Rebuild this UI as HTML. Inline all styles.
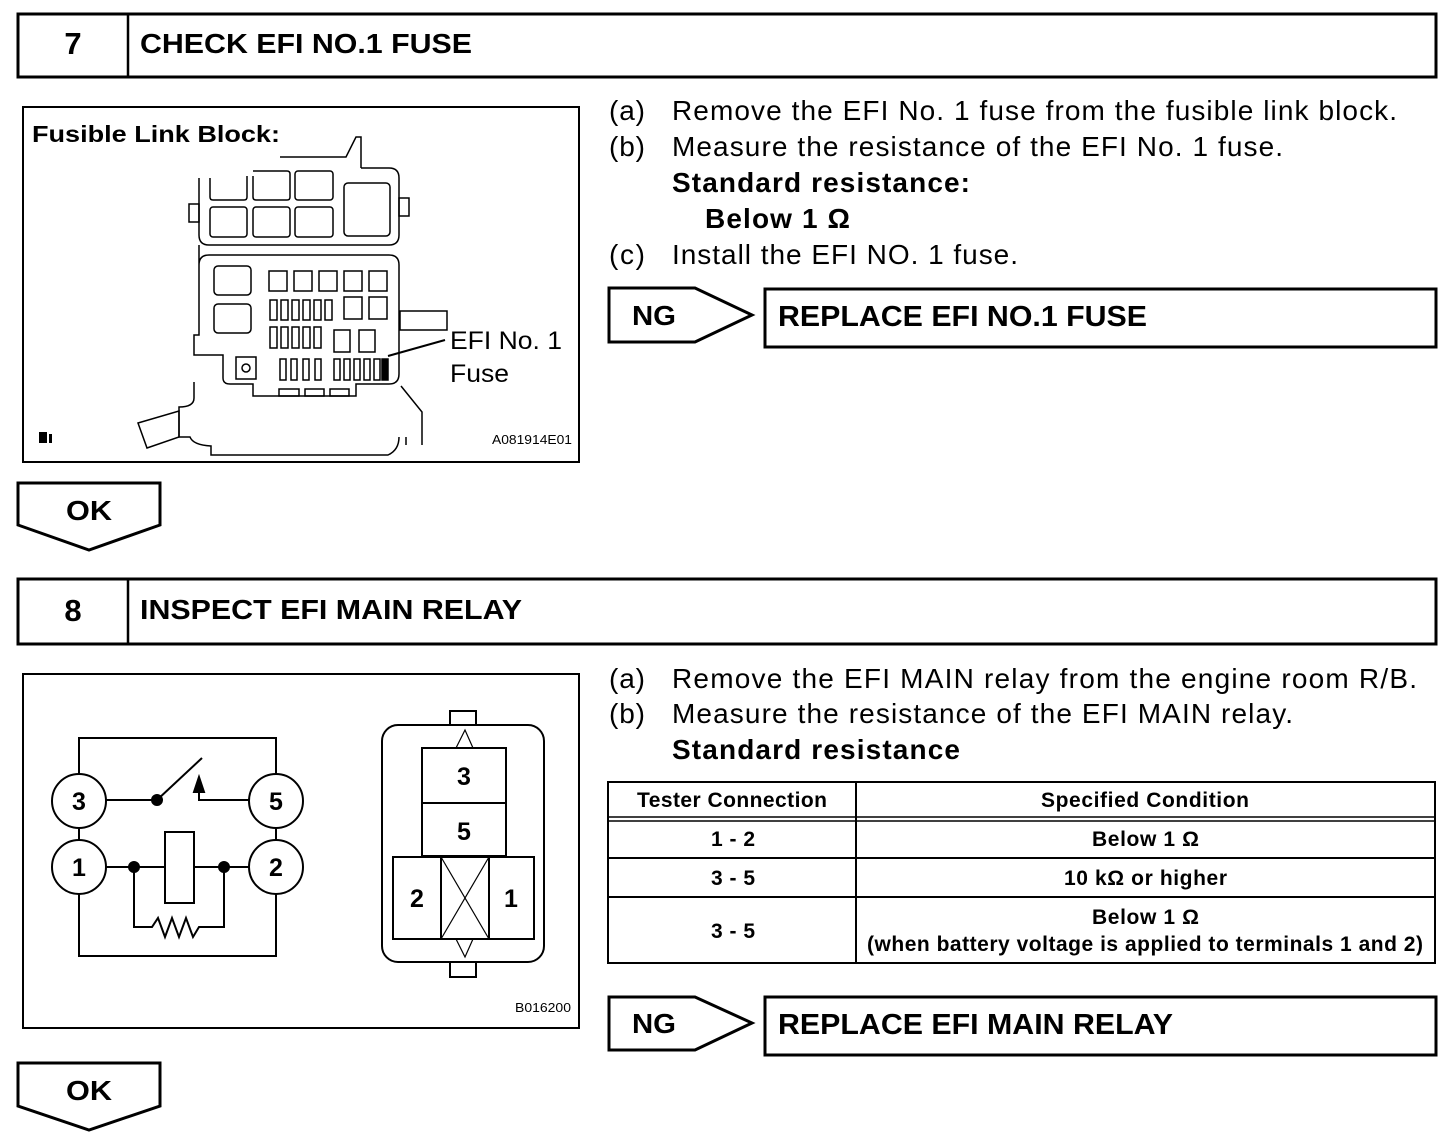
<!DOCTYPE html>
<html><head><meta charset="utf-8"><style>
html,body{margin:0;padding:0;background:#fff;}
svg{display:block;}
text{font-family:"Liberation Sans",Arial,sans-serif;fill:#000;}
.b{font-weight:bold;}
</style></head><body>
<svg width="1456" height="1142" viewBox="0 0 1456 1142" xmlns="http://www.w3.org/2000/svg">
<g fill="none" stroke="#000">
<rect x="18" y="14" width="1418" height="63" stroke-width="3"/>
<line x1="128" y1="14" x2="128" y2="77" stroke-width="2.5"/>
<rect x="18" y="579" width="1418" height="65" stroke-width="3"/>
<line x1="128" y1="579" x2="128" y2="644" stroke-width="2.5"/>
<rect x="23" y="107" width="556" height="355" stroke-width="2"/>
<rect x="23" y="674" width="556" height="354" stroke-width="2"/>
<polygon points="609,288 695,288 752,315 695,342 609,342" stroke-width="3"/>
<rect x="765" y="289" width="671" height="58" stroke-width="3"/>
<polygon points="609,997 695,997 752,1023 695,1050 609,1050" stroke-width="3"/>
<rect x="765" y="997" width="671" height="58" stroke-width="3"/>
<polygon points="18,483 160,483 160,525 89,550 18,525" stroke-width="3"/>
<polygon points="18,1063 160,1063 160,1106 89,1130 18,1106" stroke-width="3"/>
<rect x="608" y="782" width="827" height="181" stroke-width="2"/>
<line x1="856" y1="782" x2="856" y2="963" stroke-width="2"/>
<line x1="608" y1="817" x2="1435" y2="817" stroke-width="1.5"/>
<line x1="608" y1="821" x2="1435" y2="821" stroke-width="1.5"/>
<line x1="608" y1="858" x2="1435" y2="858" stroke-width="2"/>
<line x1="608" y1="897" x2="1435" y2="897" stroke-width="2"/>

<g stroke-width="1.5">
<path d="M280,157 L346,157 L356,137 L361,137 L361,168"/>
<path d="M199,178 L199,235 Q199,245 209,245 L389,245 Q399,245 399,235 L399,178 Q399,168 389,168 L361,168"/>
<rect x="189" y="204" width="10" height="18"/>
<rect x="399" y="198" width="10" height="18"/>
<path d="M210,178 L210,197 Q210,200 213,200 L244,200 Q247,200 247,197 L247,176"/>
<path d="M253,176 L253,197 Q253,200 256,200 L287,200 Q290,200 290,197 L290,174 Q290,171 287,171 L253,171"/>
<rect x="295" y="171" width="38" height="29" rx="3"/>
<rect x="210" y="207" width="37" height="30" rx="3"/>
<rect x="253" y="207" width="37" height="30" rx="3"/>
<rect x="295" y="207" width="38" height="30" rx="3"/>
<rect x="344" y="183" width="46" height="53" rx="4"/>
<path d="M199,245 L199,335 L194,335 L194,355 L223,355 L223,378 Q223,384 230,384 L253,384 L253,396 L356,396 L356,384 L389,384 Q399,384 399,374 L399,265 Q399,255 389,255 L209,255 Q199,255 199,265"/>
<rect x="214" y="266" width="37" height="29" rx="4"/>
<rect x="214" y="304" width="37" height="29" rx="4"/>
<rect x="269" y="271" width="18" height="20"/><rect x="294" y="271" width="18" height="20"/><rect x="319" y="271" width="18" height="20"/><rect x="344" y="271" width="18" height="20"/><rect x="369" y="271" width="18" height="20"/>
<rect x="270" y="300" width="7" height="20"/><rect x="281" y="300" width="7" height="20"/><rect x="292" y="300" width="7" height="20"/><rect x="303" y="300" width="7" height="20"/><rect x="314" y="300" width="7" height="20"/><rect x="325" y="300" width="7" height="20"/>
<rect x="344" y="297" width="18" height="22"/><rect x="369" y="297" width="18" height="22"/>
<rect x="270" y="327" width="7" height="21"/><rect x="281" y="327" width="7" height="21"/><rect x="292" y="327" width="7" height="21"/><rect x="303" y="327" width="7" height="21"/><rect x="314" y="327" width="7" height="21"/>
<rect x="334" y="330" width="16" height="22"/><rect x="359" y="330" width="16" height="22"/>
<rect x="236" y="357" width="20" height="22"/><circle cx="246" cy="368" r="4"/>
<rect x="280" y="359" width="6" height="21"/><rect x="291" y="359" width="6" height="21"/><rect x="303" y="359" width="6" height="21"/><rect x="315" y="359" width="6" height="21"/>
<rect x="334" y="359" width="6" height="21"/><rect x="344" y="359" width="6" height="21"/><rect x="354" y="359" width="6" height="21"/><rect x="364" y="359" width="6" height="21"/><rect x="374" y="359" width="6" height="21"/>
<rect x="382" y="359" width="6" height="21" fill="#000"/>
<rect x="279" y="389" width="20" height="7"/><rect x="305" y="389" width="19" height="7"/><rect x="330" y="389" width="19" height="7"/>
<rect x="400" y="311" width="47" height="19"/>
<path d="M194,382 L194,398 Q194,407 179,407 L179,437 L190,437 Q193,445 211,446 L211,455 L388,455 Q399,450 399,437"/>
<polygon points="138,423 179,411 179,437 147,448"/>
<path d="M401,386 L422,412 L422,445"/>
<path d="M406,437 L406,445"/>
<line x1="388" y1="356" x2="445" y2="340" stroke-width="2"/>
</g>

<g stroke-width="2">
<path d="M79,774 L79,738 L276,738 L276,774"/>
<path d="M79,893 L79,956 L276,956 L276,893"/>
<line x1="79" y1="827" x2="79" y2="841"/>
<line x1="276" y1="827" x2="276" y2="841"/>
<circle cx="79" cy="801" r="27"/><circle cx="276" cy="801" r="27"/>
<circle cx="79" cy="867" r="27"/><circle cx="276" cy="867" r="27"/>
<line x1="106" y1="800" x2="157" y2="800"/>
<line x1="157" y1="800" x2="202" y2="758"/>
<path d="M249,800 L199,800 L199,790"/>
<polygon points="199,777 194,792 204,792" fill="#000"/>
<circle cx="157" cy="800" r="5" fill="#000"/>
<line x1="106" y1="867" x2="165" y2="867"/>
<line x1="194" y1="867" x2="249" y2="867"/>
<rect x="165" y="832" width="29" height="71"/>
<circle cx="134" cy="867" r="5" fill="#000"/><circle cx="224" cy="867" r="5" fill="#000"/>
<path d="M134,867 L134,927 L152,927 L158,918 L165,937 L172,918 L179,937 L186,918 L193,937 L199,927 L224,927 L224,867"/>
<rect x="382" y="725" width="162" height="237" rx="16"/>
<rect x="450" y="711" width="26" height="14"/>
<rect x="450" y="962" width="26" height="15"/>
<rect x="422" y="748" width="84" height="108"/>
<line x1="422" y1="803" x2="506" y2="803"/>
<rect x="393" y="857" width="141" height="82"/>
<line x1="441" y1="857" x2="441" y2="939"/><line x1="489" y1="857" x2="489" y2="939"/>
<line x1="441" y1="857" x2="489" y2="939" stroke-width="1.2"/><line x1="489" y1="857" x2="441" y2="939" stroke-width="1.2"/>
<polyline points="456,748 465,730 473,748" stroke-width="1.2"/>
<polyline points="456,939 465,957 473,939" stroke-width="1.2"/>
</g>
</g>

<text x="73" y="54" font-size="31" class="b" text-anchor="middle">7</text>
<text x="140" y="53" font-size="28" class="b" textLength="332" lengthAdjust="spacingAndGlyphs">CHECK EFI NO.1 FUSE</text>
<text x="73" y="621" font-size="31" class="b" text-anchor="middle">8</text>
<text x="140" y="619" font-size="28" class="b" textLength="382" lengthAdjust="spacingAndGlyphs">INSPECT EFI MAIN RELAY</text>

<text x="32" y="142" font-size="23" class="b" textLength="248" lengthAdjust="spacingAndGlyphs">Fusible Link Block:</text>
<text x="450" y="349" font-size="25" textLength="112" lengthAdjust="spacingAndGlyphs">EFI No. 1</text>
<text x="450" y="382" font-size="25" textLength="59" lengthAdjust="spacingAndGlyphs">Fuse</text>
<text x="492" y="444" font-size="13" textLength="80" lengthAdjust="spacingAndGlyphs">A081914E01</text>
<rect x="39" y="432" width="8" height="11" fill="#000"/><rect x="49" y="434" width="3" height="9" fill="#000"/>

<g font-size="28" lengthAdjust="spacingAndGlyphs">
<text x="609" y="120" textLength="36">(a)</text><text x="672" y="120" textLength="725">Remove the EFI No. 1 fuse from the fusible link block.</text>
<text x="609" y="156" textLength="36">(b)</text><text x="672" y="156" textLength="611">Measure the resistance of the EFI No. 1 fuse.</text>
<text x="672" y="192" class="b" textLength="298">Standard resistance:</text>
<text x="705" y="228" class="b" textLength="145">Below 1 Ω</text>
<text x="609" y="264" textLength="36">(c)</text><text x="672" y="264" textLength="346">Install the EFI NO. 1 fuse.</text>
<text x="609" y="688" textLength="36">(a)</text><text x="672" y="688" textLength="745">Remove the EFI MAIN relay from the engine room R/B.</text>
<text x="609" y="723" textLength="36">(b)</text><text x="672" y="723" textLength="621">Measure the resistance of the EFI MAIN relay.</text>
<text x="672" y="759" class="b" textLength="288">Standard resistance</text>
</g>

<text x="632" y="325" font-size="28" class="b" textLength="44" lengthAdjust="spacingAndGlyphs">NG</text>
<text x="778" y="326" font-size="29" class="b" textLength="369" lengthAdjust="spacingAndGlyphs">REPLACE EFI NO.1 FUSE</text>
<text x="632" y="1033" font-size="28" class="b" textLength="44" lengthAdjust="spacingAndGlyphs">NG</text>
<text x="778" y="1034" font-size="29" class="b" textLength="395" lengthAdjust="spacingAndGlyphs">REPLACE EFI MAIN RELAY</text>
<text x="66" y="520" font-size="28" class="b" textLength="46" lengthAdjust="spacingAndGlyphs">OK</text>
<text x="66" y="1100" font-size="28" class="b" textLength="46" lengthAdjust="spacingAndGlyphs">OK</text>

<g font-size="21" class="b" lengthAdjust="spacingAndGlyphs">
<text x="637" y="807" textLength="190">Tester Connection</text>
<text x="1041" y="807" textLength="208">Specified Condition</text>
<text x="711" y="846" textLength="44">1 - 2</text>
<text x="1092" y="846" textLength="107">Below 1 Ω</text>
<text x="711" y="885" textLength="44">3 - 5</text>
<text x="1064" y="885" textLength="163">10 kΩ or higher</text>
<text x="711" y="938" textLength="44">3 - 5</text>
<text x="1092" y="924" textLength="107">Below 1 Ω</text>
<text x="867" y="951" textLength="556">(when battery voltage is applied to terminals 1 and 2)</text>
</g>

<g font-size="25" class="b" text-anchor="middle">
<text x="79" y="810">3</text><text x="276" y="810">5</text>
<text x="79" y="876">1</text><text x="276" y="876">2</text>
<text x="464" y="785">3</text><text x="464" y="840">5</text>
<text x="417" y="907">2</text><text x="511" y="907">1</text>
</g>
<text x="515" y="1012" font-size="13" textLength="56" lengthAdjust="spacingAndGlyphs">B016200</text>
</svg>
</body></html>
